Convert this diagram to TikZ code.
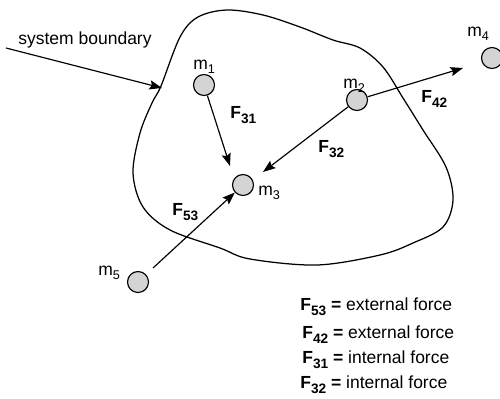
\documentclass[tikz,border=0pt]{standalone}
\usepackage{fontspec}
\setmainfont{Liberation Sans}
\usetikzlibrary{arrows.meta}
\newcommand\fsub[1]{\raisebox{-3pt}{\fontsize{8.2}{9}\selectfont\bfseries #1}}
\newcommand\msub[1]{\raisebox{-2.6pt}{\fontsize{7.6}{9}\selectfont #1}}
\begin{document}
\begin{tikzpicture}[x=0.6pt,y=-0.6pt,
  every node/.style={font=\fontsize{10.5}{12}\selectfont},
  mass/.style={circle,draw,line width=0.7pt,fill=black!17,minimum size=12.6pt,inner sep=0pt},
  lbl/.style={anchor=base west,inner sep=0pt},
  force/.style={line width=0.7pt,-{Stealth[length=7.5pt,width=5.5pt,inset=1.2pt]}},
  bound/.style={line width=0.75pt}]
\useasboundingbox (0,0) rectangle (500,398);
% boundary
\draw[bound] plot[smooth cycle,tension=0.55] coordinates {
 (227,10) (263,15) (300,27) (333,40) (360,48) (383,67) (403,98) (423,130)
 (446,167) (453,200) (443,227) (413,243) (380,255) (317,265) (250,259)
 (220,248) (170,230) (143,207) (133,173) (140,133) (152,103) (161,86)
 (180,37) (198,17)};
% masses
\node[mass] (m1) at (204,85) {};
\node[mass] (m2) at (357,100) {};
\node[mass] (m3) at (243,185) {};
\node[mass] (m4) at (492,58) {};
\node[mass] (m5) at (138,282) {};
% mass labels
\node[lbl] (l1) at (193,69) {m\msub{1}};
\node[lbl] (l2) at (343,88) {m\msub{2}};
\node[lbl] (l3) at (258,195) {m\msub{3}};
\node[lbl] (l4) at (467,36) {m\msub{4}};
\node[lbl] (l5) at (98,275) {m\msub{5}};
% force labels
\node[lbl] (f31) at (230,118) {\bfseries F\fsub{31}};
\node[lbl] (f42) at (421,102) {\bfseries F\fsub{42}};
\node[lbl] (f32) at (318,152) {\bfseries F\fsub{32}};
\node[lbl] (f53) at (172,215) {\bfseries F\fsub{53}};
% system boundary
\node[lbl] (sb) at (18,44) {system boundary};
\coordinate (sbs) at (6,48);
\coordinate (sbt) at (162,88);
\draw[force] (sbs) -- (sbt);
% forces
\coordinate (t13) at (230,166);
\coordinate (t23) at (263,172);
\coordinate (t24) at (463,68);
\coordinate (s53) at (153,268);
\draw[force] (m1) -- (t13);
\draw[force] (m2) -- (t23);
\draw[force] (m2) -- (t24);
\draw[force] (s53) -- (m3);
% legend
\node[lbl] (g1) at (300,310) {\bfseries F\fsub{53} =\mdseries\ external force};
\node[lbl] (g2) at (302,338) {\bfseries F\fsub{42} =\mdseries\ external force};
\node[lbl] (g3) at (302,363) {\bfseries F\fsub{31} =\mdseries\ internal force};
\node[lbl] (g4) at (300,388) {\bfseries F\fsub{32} =\mdseries\ internal force};
\end{tikzpicture}
\end{document}
